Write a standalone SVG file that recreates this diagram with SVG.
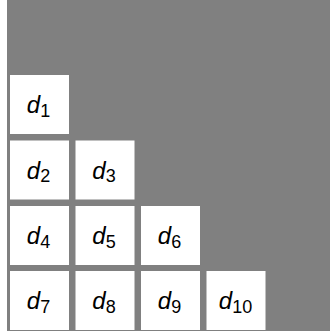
<svg xmlns="http://www.w3.org/2000/svg" width="330" height="331" viewBox="0 0 330 331">
<style>
.b{fill:#ffffff}
.t{font-family:"Liberation Sans",Arial,sans-serif;font-size:24px;fill:#000;text-anchor:middle}
.v{font-style:italic}
.s{font-size:18px}
</style>
<rect x="0" y="0" width="330" height="331" fill="#ffffff"/>
<rect x="7" y="0" width="323" height="331" fill="#808080"/>
<g id="connectors"/>
<g id="n1"><rect class="b" x="10" y="75" width="59" height="59"/><text class="t" x="38.5" y="113"><tspan class="v">d</tspan><tspan class="s" dy="3.5">1</tspan></text></g>
<g id="n2"><rect class="b" x="10" y="140.5" width="59" height="59"/><text class="t" x="38.5" y="178.5"><tspan class="v">d</tspan><tspan class="s" dy="3.5">2</tspan></text></g>
<g id="n3"><rect class="b" x="75.5" y="140.5" width="59" height="59"/><text class="t" x="104" y="178.5"><tspan class="v">d</tspan><tspan class="s" dy="3.5">3</tspan></text></g>
<g id="n4"><rect class="b" x="10" y="206" width="59" height="59"/><text class="t" x="38.5" y="244"><tspan class="v">d</tspan><tspan class="s" dy="3.5">4</tspan></text></g>
<g id="n5"><rect class="b" x="75.5" y="206" width="59" height="59"/><text class="t" x="104" y="244"><tspan class="v">d</tspan><tspan class="s" dy="3.5">5</tspan></text></g>
<g id="n6"><rect class="b" x="141" y="206" width="59" height="59"/><text class="t" x="169.5" y="244"><tspan class="v">d</tspan><tspan class="s" dy="3.5">6</tspan></text></g>
<g id="n7"><rect class="b" x="10" y="271" width="59" height="59"/><text class="t" x="38.5" y="309"><tspan class="v">d</tspan><tspan class="s" dy="3.5">7</tspan></text></g>
<g id="n8"><rect class="b" x="75.5" y="271" width="59" height="59"/><text class="t" x="104" y="309"><tspan class="v">d</tspan><tspan class="s" dy="3.5">8</tspan></text></g>
<g id="n9"><rect class="b" x="141" y="271" width="59" height="59"/><text class="t" x="169.5" y="309"><tspan class="v">d</tspan><tspan class="s" dy="3.5">9</tspan></text></g>
<g id="n10"><rect class="b" x="206.5" y="271" width="59" height="59"/><text class="t" x="235.5" y="309"><tspan class="v">d</tspan><tspan class="s" dy="3.5">10</tspan></text></g>
</svg>
